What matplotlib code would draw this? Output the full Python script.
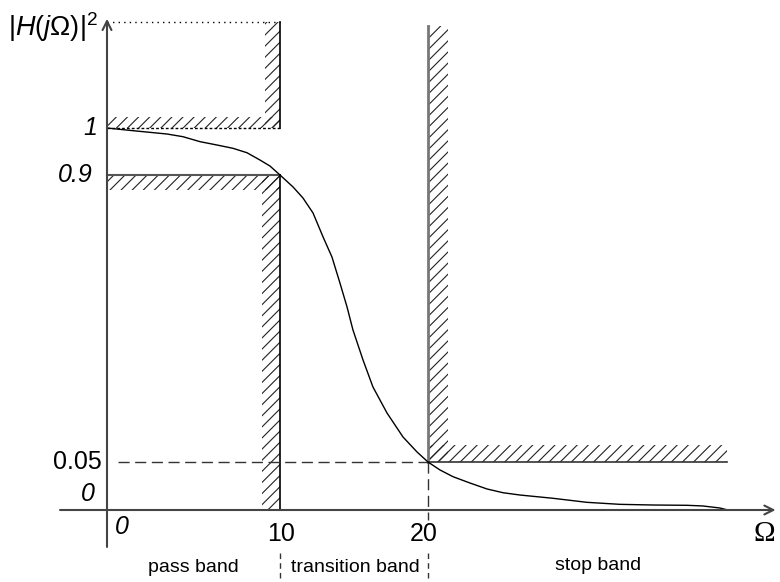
import numpy as np
import matplotlib
matplotlib.use("Agg")
import matplotlib.pyplot as plt
from matplotlib.patches import Rectangle

plt.rcParams['font.family'] = ['Liberation Sans', 'DejaVu Sans']
plt.rcParams['mathtext.fontset'] = 'custom'
plt.rcParams['mathtext.it'] = 'Liberation Sans:italic'
plt.rcParams['mathtext.rm'] = 'Liberation Sans'
plt.rcParams['hatch.linewidth'] = 0.8

# ---- data (schematic filter specification) ----
omega_p = 10          # pass-band edge
omega_s = 20          # stop-band edge
pass_hi = 1.0
pass_lo = 0.9
stop_lvl = 0.05

omega = [0, 1.5, 3.47, 4.39, 5.38, 6.36, 7.28, 8.09, 8.84, 9.42, 10,
         10.88, 11.55, 12.23, 12.91, 13.51, 14.05, 14.53, 14.93, 15.61, 16.28,
         17.23, 18.31, 19.26, 20,
         20.81, 21.69, 22.84, 23.99, 25.07, 26.22, 28.45, 30.74, 32.97, 35.2,
         37.5, 38.58, 39.73, 40.27]
h2 = [1.0, 0.9943, 0.9872, 0.9815, 0.9709, 0.9638, 0.9568, 0.9474, 0.9319, 0.9191, 0.9,
      0.8646, 0.832, 0.7876, 0.7165, 0.6572, 0.5802, 0.5091, 0.441, 0.3521, 0.2722,
      0.1951, 0.1241, 0.0796, 0.05,
      0.0417, 0.0347, 0.0281, 0.0219, 0.018, 0.0156, 0.0122, 0.008, 0.0059, 0.0052,
      0.0049, 0.0042, 0.0021, 0.0]

x_ticks = [0, 10, 20]
x_tick_labels = ['0', '10', '20']
y_tick_vals = [1.0, 0.9, 0.05, 0.0]
y_tick_labels = ['1', '0.9', '0.05', '0']
band_names = ['pass band', 'transition band', 'stop band']

# ---- schematic (piecewise) scales ----
xk = [-6.2, 0, 10, 20, 43.8]
xp = [0, 107, 280, 428, 780]
yk = [-0.075, 0, 0.05, 0.9, 1.0, 1.272]
yp = [0, 72, 120, 407, 454, 582]

fig = plt.figure(figsize=(7.8, 5.82), dpi=100)
ax = fig.add_axes([0, 0, 1, 1])
ax.set_xscale('function', functions=(lambda v: np.interp(v, xk, xp),
                                     lambda p: np.interp(p, xp, xk)))
ax.set_yscale('function', functions=(lambda v: np.interp(v, yk, yp),
                                     lambda p: np.interp(p, yp, yk)))
ax.set_xlim(xk[0], xk[-1])
ax.set_ylim(yk[0], yk[-1])
ax.axis('off')

top = 1.2255
hc = '#222222'

def hrect(x0, y0, x1, y1):
    ax.add_patch(Rectangle((x0, y0), x1 - x0, y1 - y0, facecolor='none',
                           edgecolor=hc, linewidth=0, hatch='///'))

# upper pass-band limit
hrect(0, pass_hi, omega_p, pass_hi + 0.023)
hrect(omega_p - 0.87, pass_hi, omega_p, top)
ax.plot([0, omega_p], [top, top], color='k', lw=1, ls=(0, (1, 3)))
ax.plot([0, omega_p], [pass_hi, pass_hi], color='k', lw=1, ls=(0, (2, 1.5)))
ax.plot([omega_p, omega_p], [pass_hi, top], color='k', lw=1.2)

# lower pass-band limit
hrect(0, 0.856, omega_p, pass_lo)
hrect(omega_p - 1.04, 0, omega_p, pass_lo)
ax.plot([0, omega_p], [pass_lo, pass_lo], color='#555555', lw=1.5)
ax.plot([omega_p, omega_p], [0, pass_lo], color='k', lw=1.2)

# stop-band limit
hrect(omega_s, stop_lvl, omega_s + 1.35, 1.217)
hrect(omega_s, stop_lvl, 40.2, 0.1)
ax.plot([omega_s, omega_s], [stop_lvl, 1.217], color='#777777', lw=2)
ax.plot([omega_s, 40.2], [stop_lvl, stop_lvl], color='#333333', lw=1.2)

# dashed guides
ax.plot([0.64, omega_s], [stop_lvl, stop_lvl], color='#333333', lw=1, ls=(0, (8, 4)))
ax.plot([omega_s, omega_s], [stop_lvl, -0.0104], color='#333333', lw=1, ls=(0, (8, 4)))
ax.plot([omega_s, omega_s], [-0.0448, -0.075], color='#333333', lw=1, ls=(0, (4, 3)))
ax.plot([omega_p, omega_p], [-0.0448, -0.075], color='#333333', lw=1, ls=(0, (4, 3)))

# axes with arrows
ax.annotate('', xy=(0, 1.232), xytext=(0, -0.0385),
            arrowprops=dict(arrowstyle='->', lw=1.5, color='#444444',
                            shrinkA=0, shrinkB=0, mutation_scale=16))
ax.annotate('', xy=(43.5, 0), xytext=(-2.72, 0),
            arrowprops=dict(arrowstyle='->', lw=1.5, color='#444444',
                            shrinkA=0, shrinkB=0, mutation_scale=16))

# response curve
ax.plot(omega, h2, color='k', lw=1)

# labels
fs = 18
ax.text(-5.75, 1.196, r'$|H(j\mathrm{\Omega})|^2$', fontsize=19.5, ha='left', va='baseline')
ax.text(-0.58, y_tick_vals[0], y_tick_labels[0], fontsize=fs, style='italic', ha='right', va='center')
ax.text(-0.81, y_tick_vals[1], y_tick_labels[1], fontsize=fs, style='italic', ha='right', va='center')
ax.text(-0.29, y_tick_vals[2], y_tick_labels[2], fontsize=fs, ha='right', va='center')
ax.text(-0.69, y_tick_vals[3] + 0.0167, y_tick_labels[3], fontsize=fs, style='italic', ha='right', va='center')

ax.text(0.46, -0.0177, x_tick_labels[0], fontsize=fs, style='italic', ha='left', va='center')
ax.text(10.1, -0.025, x_tick_labels[1], fontsize=fs, ha='center', va='center')
ax.text(19.73, -0.025, x_tick_labels[2], fontsize=fs, ha='center', va='center')
ax.text(42.75, -0.025, 'Ω', fontsize=21, family='Liberation Serif', ha='center', va='center')

ax.text(4.97, -0.0604, band_names[0], fontsize=14, ha='center', va='center')
ax.text(15.07, -0.0604, band_names[1], fontsize=14, ha='center', va='center')
ax.text(31.5, -0.058, band_names[2], fontsize=14, ha='center', va='center')

fig.savefig('out.png', dpi=100)
